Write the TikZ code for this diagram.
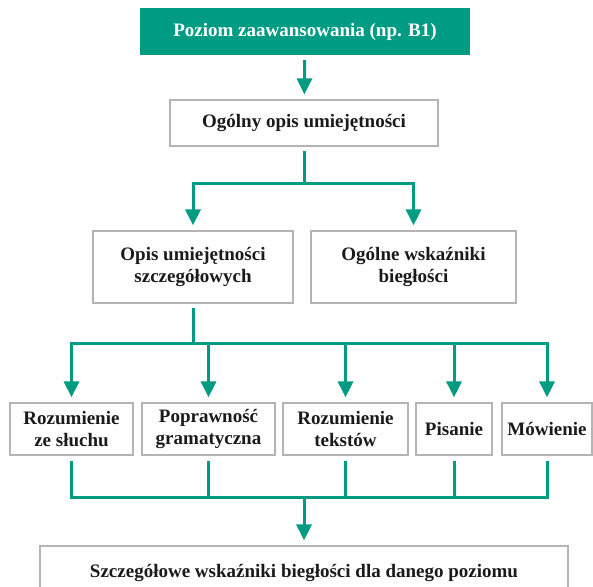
\documentclass[tikz,border=0pt]{standalone}
\usepackage{fontspec}
\setmainfont{Liberation Serif}
\usetikzlibrary{arrows.meta}
\definecolor{teal}{HTML}{009B83}
\definecolor{boxgray}{HTML}{B4B4B4}
\definecolor{ink}{HTML}{1A1A1A}

\begin{document}
\begin{tikzpicture}[
  x=1pt,
  y=-1pt,
  font=\bfseries\fontsize{19}{22.5}\selectfont,
  box/.style={
    draw=boxgray,
    line width=1.2pt,
    text=ink,
    align=center,
    inner sep=0pt
  },
  head/.style={
    fill=teal,
    text=white,
    inner sep=0pt
  },
  link/.style={
    teal,
    line width=3pt
  },
  arrowline/.style={
    link,
    -{Triangle[length=16pt,width=15pt]},
    shorten >=5pt
  },
]
\clip (0,0) rectangle (593,586);
\node[head, minimum width=330, minimum height=47] (level) at (305,31.5) {Poziom zaawansowania (np. B1)};
\node[box, minimum width=268, minimum height=46] (general) at (304,123) {Ogólny opis umiejętności};
\node[box, minimum width=200, minimum height=72] (detail) at (193,267) {Opis umiejętności\\szczegółowych};
\node[box, minimum width=205, minimum height=72] (indic) at (413.5,267) {Ogólne wskaźniki\\biegłości};
\node[box, minimum width=123, minimum height=52] (listen) at (71.5,429) {Rozumienie\\ze słuchu};
\node[box, minimum width=133, minimum height=52] (grammar) at (208.5,429) {Poprawność\\gramatyczna};
\node[box, minimum width=125, minimum height=52] (reading) at (345.5,429) {Rozumienie\\tekstów};
\node[box, minimum width=76, minimum height=52] (writing) at (454,429) {Pisanie};
\node[box, minimum width=90, minimum height=52] (speaking) at (547,429) {Mówienie};
\node[box, minimum width=528, minimum height=54] (final) at (304,573) {Szczegółowe wskaźniki biegłości dla danego poziomu};

\coordinate (split1) at (304,183);
\coordinate (split2) at (193,343);
\coordinate (join) at (304,497);

% top part
\draw[arrowline, shorten <=5pt] (level) -- (general);
\draw[link, shorten <=4pt] (general) -- (split1);
\draw[arrowline] (split1) -| (detail);
\draw[arrowline] (split1) -| (indic);

% skills
\draw[link, shorten <=4pt] (detail) -- (split2);
\foreach \n in {listen,grammar,reading,writing,speaking}
  \draw[arrowline] (split2) -| (\n);
\foreach \n in {listen,grammar,reading,writing,speaking}
  \draw[link, shorten <=5pt] (\n) |- (join);
\draw[arrowline] (join) -- (final);
\end{tikzpicture}
\end{document}
